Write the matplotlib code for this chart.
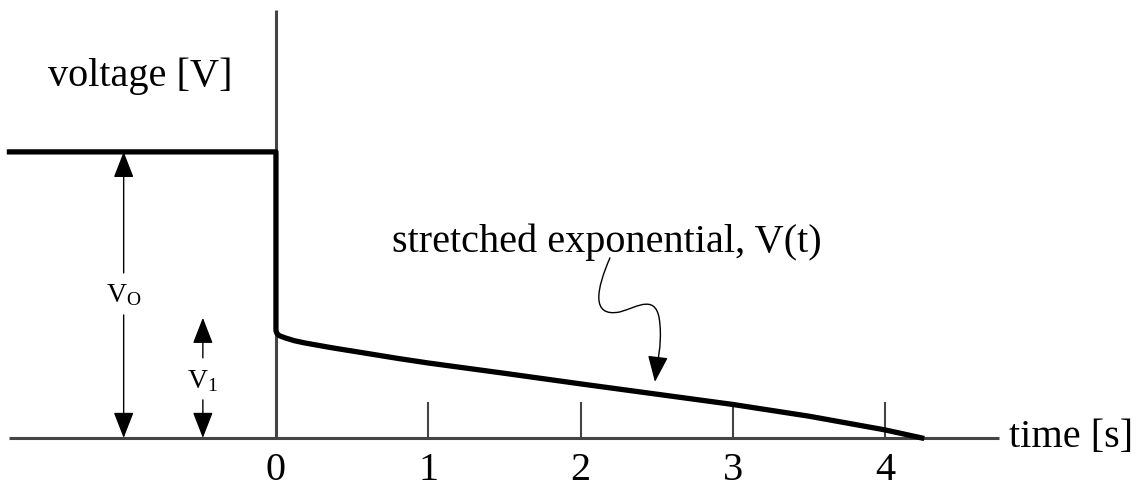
import numpy as np
import matplotlib.pyplot as plt
from matplotlib.path import Path
from matplotlib.patches import FancyArrowPatch

plt.rcParams['font.family'] = ['Liberation Serif', 'DejaVu Serif']
plt.rcParams['mathtext.fontset'] = 'custom'
plt.rcParams['mathtext.rm'] = 'Liberation Serif'
plt.rcParams['mathtext.it'] = 'Liberation Serif'

# voltage before the step (normalised, V0 = 1)
t_before = [-1.75, 0.0]
v_before = [1.0, 1.0]

# stretched exponential decay after t = 0
t_decay = [0.0, 0.0, 0.006, 0.02, 0.059, 0.12, 0.19, 0.37, 0.58, 0.8, 1.0,
           1.5, 2.0, 2.5, 3.0, 3.5, 4.0, 4.24]
v_decay = [1.0, 0.375, 0.366, 0.358, 0.350, 0.340, 0.332, 0.315, 0.297, 0.278, 0.262,
           0.226, 0.189, 0.153, 0.117, 0.076, 0.028, 0.0]

ticks = [1, 2, 3, 4]
tick_labels = ['0', '1', '2', '3', '4']

axis_col = '#444444'

fig = plt.figure(figsize=(11.41, 4.94), dpi=100)
ax = fig.add_axes([0, 0, 1, 1])
ax.set_xlim(-1.812, 5.68)
ax.set_ylim(-0.196, 1.531)
ax.axis('off')

# axes
ax.plot([-1.75, 4.75], [0, 0], color=axis_col, lw=2.2, solid_capstyle='butt', zorder=1)
ax.plot([0, 0], [0, 1.497], color=axis_col, lw=2.2, solid_capstyle='butt', zorder=1)
for t in ticks:
    ax.plot([t, t], [0, 0.122], color=axis_col, lw=1.5, zorder=1)
for i, lab in enumerate(tick_labels):
    ax.text(i, -0.115, lab, ha='center', va='center', fontsize=29)

ax.text(4.815, 0.0, 'time [s]', ha='left', va='center', fontsize=29)
ax.text(-0.893, 1.265, 'voltage [V]', ha='center', va='center', fontsize=29)

# signal
ax.plot(t_before + t_decay, v_before + v_decay, color='black', lw=3.8,
        solid_joinstyle='round', zorder=3)

# V0 and V1 dimension arrows
arrow_kw = dict(arrowstyle='-|>,head_length=0.9,head_width=0.35', color='black', lw=1.0,
                shrinkA=0, shrinkB=0, mutation_scale=18)
x0 = -1.0
ax.annotate('', xy=(x0, 1.0), xytext=(x0, 0.577), arrowprops=arrow_kw)
ax.annotate('', xy=(x0, 0.0), xytext=(x0, 0.43), arrowprops=arrow_kw)
ax.text(x0, 0.5, r'V$_{\rm O}$', ha='center', va='center', fontsize=20)

x1 = -0.48
ax.annotate('', xy=(x1, 0.42), xytext=(x1, 0.28), arrowprops=arrow_kw)
ax.annotate('', xy=(x1, 0.0), xytext=(x1, 0.133), arrowprops=arrow_kw)
ax.text(x1, 0.2, r'V$_1$', ha='center', va='center', fontsize=20)

# label with squiggly arrow
ax.text(2.172, 0.685, 'stretched exponential, V(t)', ha='center', va='center', fontsize=29)


def px(x, y):
    return ((x - 276) / 152.3, (438 - y) / 286)


verts = [px(610, 258), px(597, 288), px(590, 318), px(620, 312),
         px(638, 307), px(658, 292), px(660, 325),
         px(662, 345), px(657, 365), px(655, 382)]
codes = [Path.MOVETO] + [Path.CURVE4] * 9
squiggle = FancyArrowPatch(path=Path(verts, codes),
                           arrowstyle='-|>,head_length=0.9,head_width=0.35',
                           mutation_scale=18, color='black', lw=1.0)
ax.add_patch(squiggle)

fig.savefig('out.png', dpi=100)
